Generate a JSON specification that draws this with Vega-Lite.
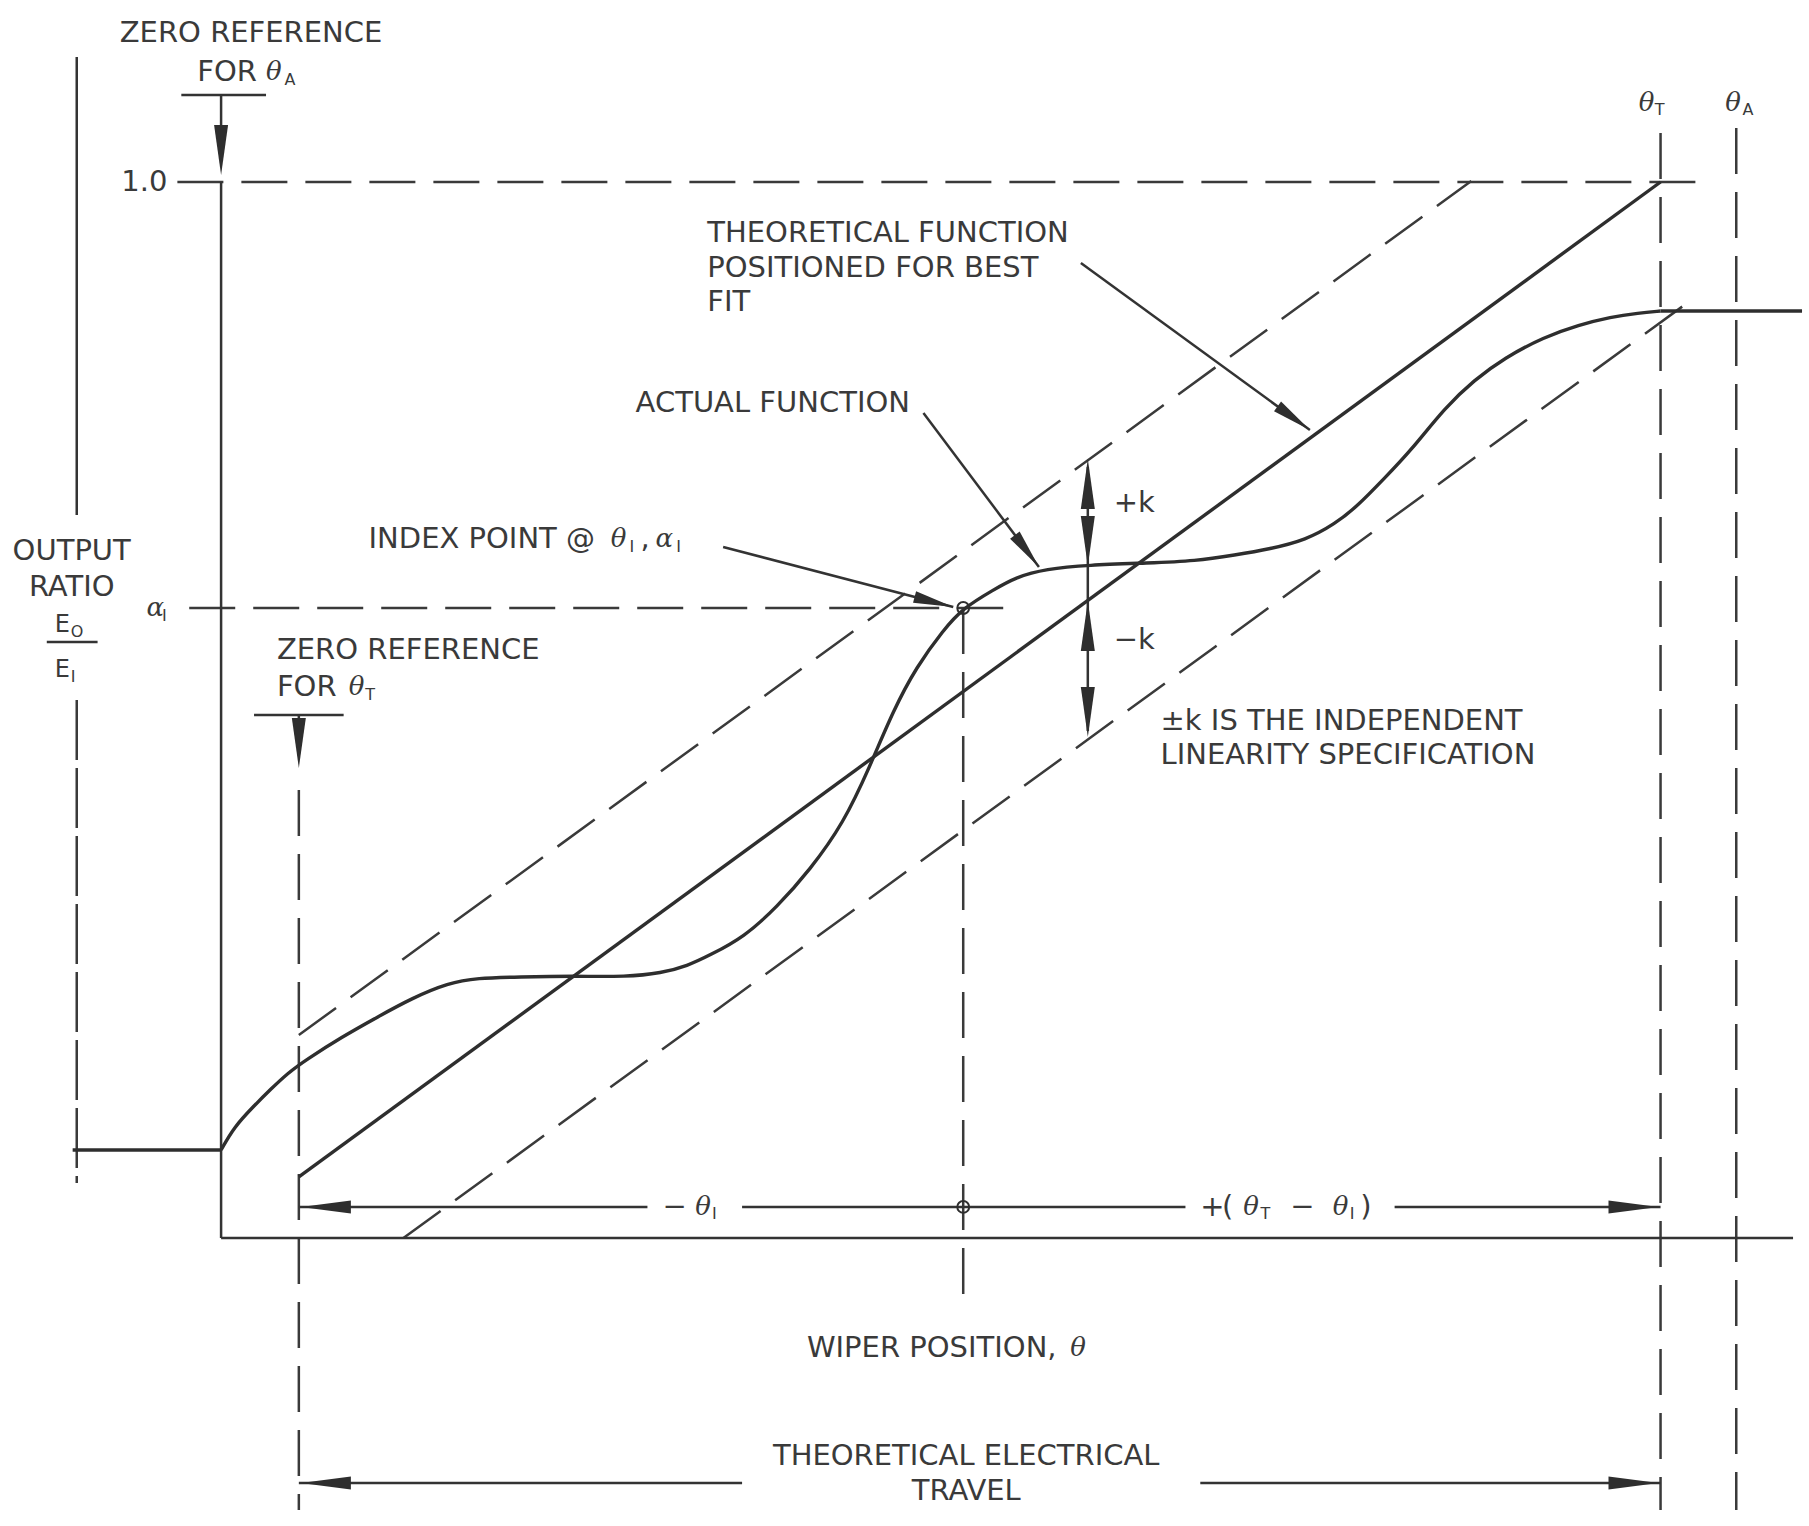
{
  "$schema": "https://vega.github.io/schema/vega-lite/v6.json",
  "width": 1809,
  "height": 1526,
  "autosize": {"type": "fit", "contains": "padding"},
  "padding": 0,
  "background": "white",
  "config": {"view": {"stroke": null}},
  "encoding": {
    "x": {"field": "x", "type": "quantitative", "axis": null, "scale": {"domain": [-0.219459, 1.103877], "nice": false, "zero": false}},
    "y": {"field": "y", "type": "quantitative", "axis": null, "scale": {"domain": [-0.272727, 1.172348], "nice": false, "zero": false}}
  },
  "datasets": {
    "solid": [
      {"id": "leftTop", "o": 1, "x": -0.1631, "y": 1.1184}, {"id": "leftTop", "o": 2, "x": -0.1631, "y": 0.6847},
      {"id": "frac", "o": 1, "x": -0.1851, "y": 0.5644}, {"id": "frac", "o": 2, "x": -0.1478, "y": 0.5644},
      {"id": "thA", "o": 1, "x": -0.0571, "y": 1.0}, {"id": "thA", "o": 2, "x": -0.0571, "y": 0},
      {"id": "xaxis", "o": 1, "x": -0.0571, "y": 0}, {"id": "xaxis", "o": 2, "x": 1.0973, "y": 0},
      {"id": "refAbar", "o": 1, "x": -0.0863, "y": 1.0824}, {"id": "refAbar", "o": 2, "x": -0.0241, "y": 1.0824},
      {"id": "refAshaft", "o": 1, "x": -0.0571, "y": 1.0824}, {"id": "refAshaft", "o": 2, "x": -0.0571, "y": 1.03},
      {"id": "refTbar", "o": 1, "x": -0.0329, "y": 0.4953}, {"id": "refTbar", "o": 2, "x": 0.0329, "y": 0.4953},
      {"id": "refTshaft", "o": 1, "x": 0, "y": 0.4953}, {"id": "refTshaft", "o": 2, "x": 0, "y": 0.47},
      {"id": "kshaft", "o": 1, "x": 0.5794, "y": 0.73}, {"id": "kshaft", "o": 2, "x": 0.5794, "y": 0.48},
      {"id": "idxArr", "o": 1, "x": 0.3116, "y": 0.6544}, {"id": "idxArr", "o": 2, "x": 0.4806, "y": 0.5975},
      {"id": "actArr", "o": 1, "x": 0.4587, "y": 0.7812}, {"id": "actArr", "o": 2, "x": 0.5435, "y": 0.6354},
      {"id": "thArr", "o": 1, "x": 0.5743, "y": 0.9233}, {"id": "thArr", "o": 2, "x": 0.7425, "y": 0.7652},
      {"id": "d1a", "o": 1, "x": 0, "y": 0.0294}, {"id": "d1a", "o": 2, "x": 0.256, "y": 0.0294},
      {"id": "d1b", "o": 1, "x": 0.3255, "y": 0.0294}, {"id": "d1b", "o": 2, "x": 0.6511, "y": 0.0294},
      {"id": "d1c", "o": 1, "x": 0.8047, "y": 0.0294}, {"id": "d1c", "o": 2, "x": 1.0, "y": 0.0294},
      {"id": "d2a", "o": 1, "x": 0, "y": -0.232}, {"id": "d2a", "o": 2, "x": 0.3255, "y": -0.232},
      {"id": "d2b", "o": 1, "x": 0.662, "y": -0.232}, {"id": "d2b", "o": 2, "x": 1.0, "y": -0.232}
    ],
    "dash": [
      {"id": "one", "o": 1, "x": -0.0892, "y": 1.0}, {"id": "one", "o": 2, "x": 1.0278, "y": 1.0},
      {"id": "alpha", "o": 1, "x": -0.0805, "y": 0.5966}, {"id": "alpha", "o": 2, "x": 0.5194, "y": 0.5966},
      {"id": "refTdash", "o": 1, "x": 0, "y": 0.4242}, {"id": "refTdash", "o": 2, "x": 0, "y": -0.2576},
      {"id": "thT", "o": 1, "x": 1.0, "y": 1.0464}, {"id": "thT", "o": 2, "x": 1.0, "y": -0.2576},
      {"id": "thAd", "o": 1, "x": 1.0556, "y": 1.0511}, {"id": "thAd", "o": 2, "x": 1.0556, "y": -0.2576},
      {"id": "idxV", "o": 1, "x": 0.4879, "y": 0.5966}, {"id": "idxV", "o": 2, "x": 0.4879, "y": -0.0559},
      {"id": "upK", "o": 1, "x": 0, "y": 0.1922}, {"id": "upK", "o": 2, "x": 0.861, "y": 1.0009},
      {"id": "loK", "o": 1, "x": 0.0768, "y": 0}, {"id": "loK", "o": 2, "x": 1.0256, "y": 0.8911}
    ],
    "longdash": [
      {"id": "leftBottom", "o": 1, "x": -0.1631, "y": 0.5095}, {"id": "leftBottom", "o": 2, "x": -0.1631, "y": 0.0521}
    ],
    "thick": [
      {"id": "theory", "o": 1, "x": 0, "y": 0.0578}, {"id": "theory", "o": 2, "x": 1.0, "y": 1.0},
      {"id": "leftFlat", "o": 1, "x": -0.1661, "y": 0.0833}, {"id": "leftFlat", "o": 2, "x": -0.0571, "y": 0.0833},
      {"id": "rightFlat", "o": 1, "x": 1.0, "y": 0.8778}, {"id": "rightFlat", "o": 2, "x": 1.1039, "y": 0.8778}
    ],
    "curve": [
      {"o": 1, "x": -0.0571, "y": 0.0833},
      {"o": 2, "x": -0.0475, "y": 0.1051},
      {"o": 3, "x": -0.0337, "y": 0.1241},
      {"o": 4, "x": -0.0205, "y": 0.1411},
      {"o": 5, "x": -0.008, "y": 0.1563},
      {"o": 6, "x": 0.0051, "y": 0.1686},
      {"o": 7, "x": 0.0315, "y": 0.1903},
      {"o": 8, "x": 0.0578, "y": 0.2093},
      {"o": 9, "x": 0.0834, "y": 0.2273},
      {"o": 10, "x": 0.1097, "y": 0.2415},
      {"o": 11, "x": 0.1309, "y": 0.2462},
      {"o": 12, "x": 0.1617, "y": 0.2472},
      {"o": 13, "x": 0.2012, "y": 0.2481},
      {"o": 14, "x": 0.2407, "y": 0.2472},
      {"o": 15, "x": 0.2663, "y": 0.2509},
      {"o": 16, "x": 0.2853, "y": 0.2576},
      {"o": 17, "x": 0.3021, "y": 0.268},
      {"o": 18, "x": 0.327, "y": 0.285},
      {"o": 19, "x": 0.3511, "y": 0.3134},
      {"o": 20, "x": 0.3753, "y": 0.3485},
      {"o": 21, "x": 0.4001, "y": 0.393},
      {"o": 22, "x": 0.4192, "y": 0.446},
      {"o": 23, "x": 0.4367, "y": 0.5},
      {"o": 24, "x": 0.4535, "y": 0.5407},
      {"o": 25, "x": 0.4733, "y": 0.5758},
      {"o": 26, "x": 0.4879, "y": 0.5966},
      {"o": 27, "x": 0.5099, "y": 0.6136},
      {"o": 28, "x": 0.5267, "y": 0.6259},
      {"o": 29, "x": 0.5486, "y": 0.6335},
      {"o": 30, "x": 0.5794, "y": 0.6373},
      {"o": 31, "x": 0.624, "y": 0.6392},
      {"o": 32, "x": 0.6584, "y": 0.6411},
      {"o": 33, "x": 0.6876, "y": 0.6468},
      {"o": 34, "x": 0.7132, "y": 0.6525},
      {"o": 35, "x": 0.7396, "y": 0.661},
      {"o": 36, "x": 0.7608, "y": 0.6761},
      {"o": 37, "x": 0.7776, "y": 0.6932},
      {"o": 38, "x": 0.7974, "y": 0.7197},
      {"o": 39, "x": 0.8164, "y": 0.7453},
      {"o": 40, "x": 0.842, "y": 0.7869},
      {"o": 41, "x": 0.8632, "y": 0.8125},
      {"o": 42, "x": 0.8852, "y": 0.8333},
      {"o": 43, "x": 0.9144, "y": 0.8532},
      {"o": 44, "x": 0.94, "y": 0.8646},
      {"o": 45, "x": 0.9634, "y": 0.8722},
      {"o": 46, "x": 0.9839, "y": 0.8759},
      {"o": 47, "x": 1.0, "y": 0.8778}
    ],
    "heads": [
      {"dir": "down", "x": -0.0571, "y": 1.0066},
      {"dir": "down", "x": 0, "y": 0.4451},
      {"dir": "down", "x": 0.5794, "y": 0.6364},
      {"dir": "down", "x": 0.5794, "y": 0.4744},
      {"dir": "up", "x": 0.5794, "y": 0.7377},
      {"dir": "up", "x": 0.5794, "y": 0.6032},
      {"dir": "left", "x": 0.0015, "y": 0.0294},
      {"dir": "left", "x": 0.0015, "y": -0.232},
      {"dir": "right", "x": 0.9985, "y": 0.0294},
      {"dir": "right", "x": 0.9985, "y": -0.232},
      {"dir": "index", "x": 0.4806, "y": 0.5975},
      {"dir": "actual", "x": 0.5435, "y": 0.6354},
      {"dir": "theory", "x": 0.7425, "y": 0.7652}
    ],
    "dots": [
      {"x": 0.4879, "y": 0.5966},
      {"x": 0.4879, "y": 0.0294}
    ],
    "text": [
      {"role": "c", "t": "ZERO REFERENCE", "x": -0.0351, "y": 1.1411},
      {"role": "c", "t": "1.0", "x": -0.1134, "y": 1.0},
      {"role": "c", "t": "OUTPUT", "x": -0.1668, "y": 0.6506},
      {"role": "c", "t": "RATIO", "x": -0.1668, "y": 0.6165},
      {"role": "c", "t": "THEORETICAL ELECTRICAL", "x": 0.4901, "y": -0.2064},
      {"role": "c", "t": "TRAVEL", "x": 0.4901, "y": -0.2396},
      {"role": "l", "t": "FOR", "x": -0.0746, "y": 1.1042},
      {"role": "l", "t": "ZERO REFERENCE", "x": -0.0161, "y": 0.5568},
      {"role": "l", "t": "FOR", "x": -0.0161, "y": 0.5218},
      {"role": "l", "t": "INDEX POINT @", "x": 0.0512, "y": 0.6619},
      {"role": "l", "t": ",", "x": 0.2509, "y": 0.6619},
      {"role": "l", "t": "ACTUAL FUNCTION", "x": 0.2473, "y": 0.7907},
      {"role": "l", "t": "THEORETICAL FUNCTION", "x": 0.2999, "y": 0.9517},
      {"role": "l", "t": "POSITIONED FOR BEST", "x": 0.2999, "y": 0.9186},
      {"role": "l", "t": "FIT", "x": 0.2999, "y": 0.8864},
      {"role": "l", "t": "+k", "x": 0.5984, "y": 0.696},
      {"role": "l", "t": "−k", "x": 0.5984, "y": 0.5663},
      {"role": "l", "t": "±k IS THE INDEPENDENT", "x": 0.6328, "y": 0.4896},
      {"role": "l", "t": "LINEARITY SPECIFICATION", "x": 0.6328, "y": 0.4574},
      {"role": "l", "t": "WIPER POSITION,", "x": 0.3731, "y": -0.1042},
      {"role": "l", "t": "−", "x": 0.267, "y": 0.0294},
      {"role": "l", "t": "+", "x": 0.662, "y": 0.0294},
      {"role": "l", "t": "(", "x": 0.678, "y": 0.0294},
      {"role": "l", "t": "−", "x": 0.728, "y": 0.0294},
      {"role": "l", "t": ")", "x": 0.7795, "y": 0.0294},
      {"role": "g", "t": "θ", "x": -0.0241, "y": 1.1042},
      {"role": "g", "t": "θ", "x": 0.0366, "y": 0.5218},
      {"role": "g", "t": "α", "x": -0.1119, "y": 0.5966},
      {"role": "g", "t": "θ", "x": 0.229, "y": 0.6619},
      {"role": "g", "t": "α", "x": 0.2619, "y": 0.6619},
      {"role": "g", "t": "θ", "x": 0.9839, "y": 1.0748},
      {"role": "g", "t": "θ", "x": 1.0476, "y": 1.0748},
      {"role": "g", "t": "θ", "x": 0.2911, "y": 0.0294},
      {"role": "g", "t": "θ", "x": 0.6935, "y": 0.0294},
      {"role": "g", "t": "θ", "x": 0.7593, "y": 0.0294},
      {"role": "g", "t": "θ", "x": 0.5665, "y": -0.1042},
      {"role": "s", "t": "A", "x": -0.0105, "y": 1.0966},
      {"role": "s", "t": "T", "x": 0.0487, "y": 0.5142},
      {"role": "s", "t": "I", "x": -0.1005, "y": 0.589},
      {"role": "s", "t": "I", "x": 0.2428, "y": 0.6544},
      {"role": "s", "t": "I", "x": 0.2772, "y": 0.6544},
      {"role": "s", "t": "T", "x": 0.9958, "y": 1.0682},
      {"role": "s", "t": "A", "x": 1.0602, "y": 1.0682},
      {"role": "s", "t": "I", "x": 0.3035, "y": 0.0227},
      {"role": "s", "t": "T", "x": 0.7063, "y": 0.0227},
      {"role": "s", "t": "I", "x": 0.7717, "y": 0.0227},
      {"role": "s", "t": "O", "x": -0.1675, "y": 0.5739},
      {"role": "s", "t": "I", "x": -0.1675, "y": 0.5313},
      {"role": "e", "t": "E", "x": -0.1792, "y": 0.5805},
      {"role": "e", "t": "E", "x": -0.1792, "y": 0.5379}
    ]
  },
  "layer": [
    {"data": {"name": "dash"}, "mark": {"type": "line", "stroke": "#3a3a3a", "strokeWidth": 2.5, "strokeDash": [46, 18], "strokeCap": "butt"}, "encoding": {"detail": {"field": "id"}, "order": {"field": "o"}}},
    {"data": {"name": "longdash"}, "mark": {"type": "line", "stroke": "#3a3a3a", "strokeWidth": 2.5, "strokeDash": [60, 8], "strokeCap": "butt"}, "encoding": {"detail": {"field": "id"}, "order": {"field": "o"}}},
    {"data": {"name": "solid"}, "mark": {"type": "line", "stroke": "#333333", "strokeWidth": 2.5, "strokeCap": "butt"}, "encoding": {"detail": {"field": "id"}, "order": {"field": "o"}}},
    {"data": {"name": "thick"}, "mark": {"type": "line", "stroke": "#2e2e2e", "strokeWidth": 3.4, "strokeCap": "butt"}, "encoding": {"detail": {"field": "id"}, "order": {"field": "o"}}},
    {"data": {"name": "curve"}, "mark": {"type": "line", "stroke": "#2e2e2e", "strokeWidth": 3.4, "interpolate": "basis", "strokeCap": "butt"}, "encoding": {"order": {"field": "o"}}},
    {"data": {"name": "heads"}, "transform": [{"filter": "datum.dir === 'down'"}], "mark": {"type": "point", "shape": "M0,0L-0.28,2L0.28,2Z", "filled": true, "fill": "#2e2e2e", "strokeWidth": 0, "opacity": 1, "size": 2500, "angle": 180}},
    {"data": {"name": "heads"}, "transform": [{"filter": "datum.dir === 'up'"}], "mark": {"type": "point", "shape": "M0,0L-0.28,2L0.28,2Z", "filled": true, "fill": "#2e2e2e", "strokeWidth": 0, "opacity": 1, "size": 2500, "angle": 0}},
    {"data": {"name": "heads"}, "transform": [{"filter": "datum.dir === 'left'"}], "mark": {"type": "point", "shape": "M0,0L-0.26,2L0.26,2Z", "filled": true, "fill": "#2e2e2e", "strokeWidth": 0, "opacity": 1, "size": 2500, "angle": 270}},
    {"data": {"name": "heads"}, "transform": [{"filter": "datum.dir === 'right'"}], "mark": {"type": "point", "shape": "M0,0L-0.26,2L0.26,2Z", "filled": true, "fill": "#2e2e2e", "strokeWidth": 0, "opacity": 1, "size": 2500, "angle": 90}},
    {"data": {"name": "heads"}, "transform": [{"filter": "datum.dir === 'index'"}], "mark": {"type": "point", "shape": "M0,0L-0.3,2L0.3,2Z", "filled": true, "fill": "#2e2e2e", "strokeWidth": 0, "opacity": 1, "size": 1600, "angle": 104.6}},
    {"data": {"name": "heads"}, "transform": [{"filter": "datum.dir === 'actual'"}], "mark": {"type": "point", "shape": "M0,0L-0.3,2L0.3,2Z", "filled": true, "fill": "#2e2e2e", "strokeWidth": 0, "opacity": 1, "size": 1600, "angle": 143}},
    {"data": {"name": "heads"}, "transform": [{"filter": "datum.dir === 'theory'"}], "mark": {"type": "point", "shape": "M0,0L-0.3,2L0.3,2Z", "filled": true, "fill": "#2e2e2e", "strokeWidth": 0, "opacity": 1, "size": 1600, "angle": 126}},
    {"data": {"name": "dots"}, "mark": {"type": "point", "shape": "circle", "filled": false, "stroke": "#2e2e2e", "strokeWidth": 2, "opacity": 1, "size": 140}},
    {"data": {"name": "text"}, "transform": [{"filter": "datum.role === 'c'"}], "mark": {"type": "text", "font": "DejaVu Sans", "fontSize": 29, "align": "center", "baseline": "middle", "fill": "#3a3a3a"}, "encoding": {"text": {"field": "t"}}},
    {"data": {"name": "text"}, "transform": [{"filter": "datum.role === 'l'"}], "mark": {"type": "text", "font": "DejaVu Sans", "fontSize": 29, "align": "left", "baseline": "middle", "fill": "#3a3a3a"}, "encoding": {"text": {"field": "t"}}},
    {"data": {"name": "text"}, "transform": [{"filter": "datum.role === 'g'"}], "mark": {"type": "text", "font": "DejaVu Serif", "fontStyle": "italic", "fontSize": 26, "align": "left", "baseline": "middle", "fill": "#3a3a3a"}, "encoding": {"text": {"field": "t"}}},
    {"data": {"name": "text"}, "transform": [{"filter": "datum.role === 's'"}], "mark": {"type": "text", "font": "DejaVu Sans", "fontSize": 16, "align": "left", "baseline": "middle", "fill": "#3a3a3a"}, "encoding": {"text": {"field": "t"}}},
    {"data": {"name": "text"}, "transform": [{"filter": "datum.role === 'e'"}], "mark": {"type": "text", "font": "DejaVu Sans", "fontSize": 24, "align": "left", "baseline": "middle", "fill": "#3a3a3a"}, "encoding": {"text": {"field": "t"}}}
  ]
}
